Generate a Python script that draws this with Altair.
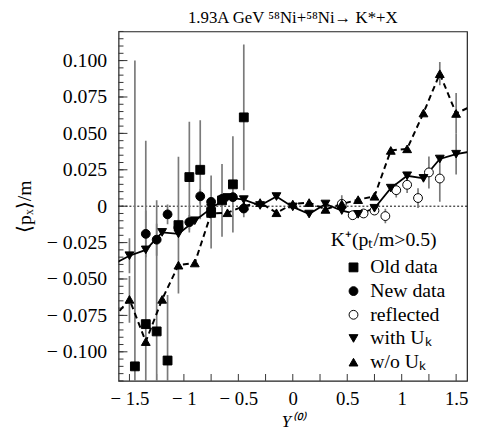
import altair as alt
import pandas as pd

FONT = "Liberation Serif"

# ---- data ----
old_x = [-1.45, -1.35, -1.25, -1.15, -1.05, -0.95, -0.85, -0.75, -0.65, -0.55, -0.45]
old_y = [-0.110, -0.081, -0.086, -0.106, -0.013, 0.020, 0.025, -0.004, 0.004, 0.015, 0.061]
old_err = [0.210, 0.126, 0.090, 0.045, 0.047, 0.038, 0.034, 0.025, 0.025, 0.033, 0.050]

new_x = [-1.35, -1.25, -1.15, -1.05, -0.95, -0.85, -0.75, -0.65, -0.55, -0.45]
new_y = [-0.019, -0.023, -0.0056, -0.0147, -0.011, 0.0068, 0.003, 0.005, 0.0062, -0.0016]
new_err = [0.016, 0.011, 0.0068, 0.0056, 0.005, 0.005, 0.003, 0.003, 0.003, 0.006]

refl_x = [0.45, 0.55, 0.65, 0.75, 0.85, 0.95, 1.05, 1.15, 1.25, 1.35]
refl_y = [0.0016, -0.0062, -0.005, -0.003, -0.0068, 0.011, 0.0147, 0.0056, 0.0232, 0.019]
refl_err = [0.006, 0.003, 0.003, 0.003, 0.005, 0.005, 0.0056, 0.0068, 0.011, 0.016]

model_x = [-1.65, -1.5, -1.35, -1.2, -1.05, -0.9, -0.75, -0.6, -0.45, -0.3, -0.15, 0.0,
           0.15, 0.3, 0.45, 0.6, 0.75, 0.9, 1.05, 1.2, 1.35, 1.5, 1.65]
with_y = [-0.040, -0.034, -0.030, -0.018, -0.019, -0.010, -0.0015, 0.006, 0.0045, 0.0005,
          0.0066, -0.0005, -0.0054, 0.0015, -0.003, -0.0056, -0.0014, 0.0124, 0.0209,
          0.0191, 0.0324, 0.0357, 0.0378]
with_err = [0, 0.012, 0, 0, 0, 0, 0, 0, 0, 0, 0, 0, 0, 0, 0, 0, 0, 0, 0, 0, 0, 0.014, 0]
wo_y = [-0.077, -0.064, -0.093, -0.064, -0.0405, -0.039, -0.005, -0.0045, 0.0, 0.0025,
        -0.0045, 0.0015, 0.0025, -0.0022, 0.0015, 0.0045, 0.0068, 0.0383, 0.0394, 0.064,
        0.091, 0.0637, 0.069]
wo_err = [0, 0.016, 0, 0, 0, 0, 0, 0, 0, 0, 0, 0, 0, 0, 0, 0, 0, 0, 0, 0, 0.008, 0.014, 0]

series_names = ["Old data", "New data", "reflected", "with Uₖ", "w/o Uₖ"]
series_shapes = ["square", "circle", "circle", "triangle-down", "triangle-up"]
series_fills = ["black", "black", "white", "black", "black"]
series_strokes = ["black", "black", "black", "black", "black"]

x_ticks = [-1.5, -1, -0.5, 0, 0.5, 1, 1.5]
y_ticks = [-0.1, -0.075, -0.05, -0.025, 0, 0.025, 0.05, 0.075, 0.1]
x_minor = [-1.5, -1.25, -1, -0.75, -0.5, -0.25, 0, 0.25, 0.5, 0.75, 1, 1.25, 1.5]
y_minor = [round(-0.12 + 0.005 * i, 3) for i in range(49)]

# ---- tables ----
rows = []
for name, xs, ys, es in [
    (series_names[0], old_x, old_y, old_err),
    (series_names[1], new_x, new_y, new_err),
    (series_names[2], refl_x, refl_y, refl_err),
    (series_names[3], model_x, with_y, with_err),
    (series_names[4], model_x, wo_y, wo_err),
]:
    for xv, yv, ev in zip(xs, ys, es):
        rows.append({"series": name, "x": xv, "y": yv, "err": ev,
                     "lo": yv - ev, "hi": yv + ev})
df = pd.DataFrame(rows)
pts = df[df["x"].abs() <= 1.6]
models = df[df["series"].isin(series_names[3:])]

xsc = alt.Scale(domain=[-1.6, 1.6], nice=False, zero=False)
ysc = alt.Scale(domain=[-0.12, 0.12], nice=False, zero=False)

x_axis = alt.Axis(
    values=x_ticks, ticks=False, domain=False, grid=False,
    labelExpr="datum.value < 0 ? '− ' + format(-datum.value, '') : format(datum.value, '')",
    labelFont=FONT, labelFontSize=19, labelColor="black", labelPadding=9, labelFlush=False,
    title="Y⁽⁰⁾", titleFont=FONT, titleFontSize=17, titleFontStyle="italic",
    titleFontWeight="normal", titleColor="black", titlePadding=5,
)
y_axis = alt.Axis(
    values=y_ticks, ticks=False, domain=False, grid=False,
    labelExpr="datum.value == 0 ? '0' : (datum.value < 0 ? '− ' + format(-datum.value, '.3f') : format(datum.value, '.3f'))",
    labelFont=FONT, labelFontSize=20, labelColor="black", labelPadding=12,
    title="⟨pₓ⟩/m", titleFont=FONT, titleFontSize=20, titleFontWeight="normal",
    titleColor="black", titlePadding=12,
)


def XQ(field):
    return alt.X(field, type="quantitative", scale=xsc, axis=x_axis)


def YQ(field):
    return alt.Y(field, type="quantitative", scale=ysc, axis=y_axis)


legend = alt.Legend(
    orient="none", legendX=215, legendY=201, title="K⁺(pₜ/m>0.5)",
    titleFont=FONT, titleFontSize=20, titleFontWeight="normal", titleColor="black",
    titlePadding=8, labelFont=FONT, labelFontSize=20, labelColor="black",
    labelOffset=7, rowPadding=4, padding=0, symbolOffset=13,
    symbolSize=80, symbolStrokeWidth=1,
)

main = alt.Chart(pts).mark_point(
    filled=True, strokeWidth=1, opacity=1, size=80, clip=True).encode(
    XQ("x"), YQ("y"),
    shape=alt.Shape("series:N", scale=alt.Scale(domain=series_names, range=series_shapes), legend=legend),
    fill=alt.Fill("series:N", scale=alt.Scale(domain=series_names, range=series_fills), legend=legend),
    stroke=alt.Stroke("series:N", scale=alt.Scale(domain=series_names, range=series_strokes), legend=legend),
)

zero = alt.Chart(pd.DataFrame({"y": [0]})).mark_rule(
    color="black", strokeWidth=1, strokeDash=[2, 2]).encode(y=YQ("y"))

ytick_minor = alt.Chart(pd.DataFrame({"y": y_minor})).mark_rule(color="#333", strokeWidth=1).encode(
    y=YQ("y"), x=alt.value(0), x2=alt.value(5))
ytick_major = alt.Chart(pd.DataFrame({"y": y_ticks})).mark_rule(color="#333", strokeWidth=1).encode(
    y=YQ("y"), x=alt.value(0), x2=alt.value(9))
xtick = alt.Chart(pd.DataFrame({"x": x_minor})).mark_rule(color="#333", strokeWidth=1).encode(
    x=XQ("x"), y=alt.value(354), y2=alt.value(347))

errbars = alt.Chart(df[df["err"] > 0]).mark_rule(
    color="#7a7a7a", strokeWidth=1.7, clip=True).encode(
    x=XQ("x"), y=YQ("lo"), y2="hi:Q")

line_with = alt.Chart(models[models["series"] == series_names[3]]).mark_line(
    color="black", strokeWidth=1.8, clip=True).encode(x=XQ("x"), y=YQ("y"))
line_wo = alt.Chart(models[models["series"] == series_names[4]]).mark_line(
    color="black", strokeWidth=2, strokeDash=[6, 4], clip=True).encode(x=XQ("x"), y=YQ("y"))

chart = alt.layer(
    zero, ytick_minor, ytick_major, xtick, errbars, line_with, line_wo, main
).properties(
    width=353, height=354,
    background="white",
    title=alt.Title("1.93A GeV ⁵⁸Ni+⁵⁸Ni→ K*+X", font=FONT, fontSize=17,
                    fontWeight="normal", color="black", offset=4, anchor="middle"),
    autosize=alt.AutoSizeParams(type="none"),
    padding={"left": 112, "top": 21, "right": 2, "bottom": 51},
).configure_view(stroke="#222", strokeWidth=1.2).configure_axis(
    labelFont=FONT, titleFont=FONT
).configure_text(font=FONT).configure_title(font=FONT).configure_legend(
    labelFont=FONT, titleFont=FONT)

chart.save("out.html", embed_options={"renderer": "svg", "actions": False})
